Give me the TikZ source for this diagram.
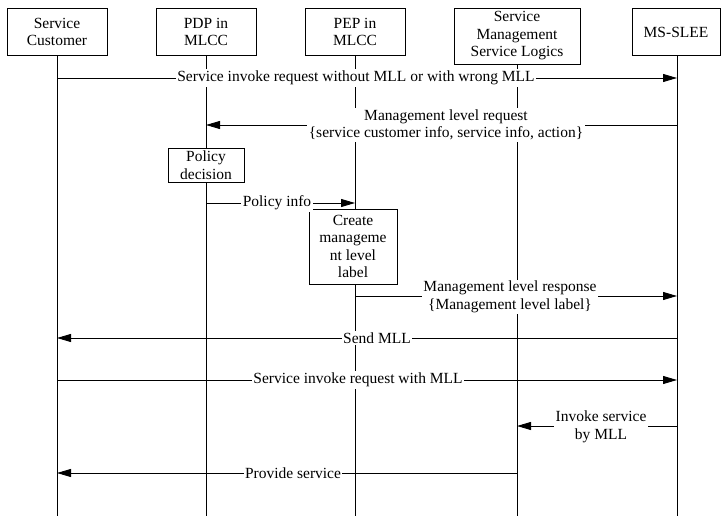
\documentclass[tikz,border=0pt]{standalone}
\usepackage{fontspec}
\setmainfont{Liberation Serif}
\usetikzlibrary{arrows.meta}
\begin{document}
\begin{tikzpicture}[x=1pt,y=-1pt,
  every node/.style={font=\fontsize{15.5}{17.5}\selectfont},
  actor/.style={draw, line width=0.9pt, minimum width=100pt, minimum height=47pt, inner sep=1pt, align=center, fill=white},
  actbox/.style={draw, line width=0.9pt, inner sep=2pt, align=center, fill=white},
  lbl/.style={fill=white, inner sep=1.5pt, align=center},
  life/.style={line width=0.9pt},
  msg/.style={line width=0.9pt, -{Triangle[length=14pt,width=8pt]}}
]
\useasboundingbox (0,0) rectangle (721,516);

% actors
\node[actor] (sc) at (57,32) {Service\\Customer};
\node[actor] (pdp) at (206,32) {PDP in\\MLCC};
\node[actor] (pep) at (355,32) {PEP in\\MLCC};
\node[actor, minimum width=126pt, minimum height=56pt] (sm) at (517,36) {Service\\Management\\Service Logics};
\node[actor, minimum width=88pt] (ms) at (676,32) {MS-SLEE};

% lifeline ends
\coordinate (scE) at (57,516);
\coordinate (pdpE) at (206,516);
\coordinate (pepE) at (355,516);
\coordinate (smE) at (517,516);
\coordinate (msE) at (677,516);

\draw[life] (sc.south) -- (scE);
\draw[life] (pdp.south) -- (pdpE);
\draw[life] (pep.south) -- (pepE);
\draw[life] (sm.south) -- (smE);
\draw[life] (ms.south -| msE) -- (msE);

% message points
\coordinate (a1) at (57,78);   \coordinate (b1) at (677,78);
\coordinate (a2) at (677,125); \coordinate (b2) at (206,125);
\coordinate (a3) at (206,203); \coordinate (b3) at (355,203);
\coordinate (a4) at (355,296); \coordinate (b4) at (677,296);
\coordinate (a5) at (677,338); \coordinate (b5) at (57,338);
\coordinate (a6) at (57,380);  \coordinate (b6) at (677,380);
\coordinate (a7) at (677,426); \coordinate (b7) at (517,426);
\coordinate (a8) at (517,473); \coordinate (b8) at (57,473);

\draw[msg] (a1) -- (b1);
\draw[msg] (a2) -- (b2);
\draw[msg] (a3) -- (b3);
\draw[msg] (a4) -- (b4);
\draw[msg] (a5) -- (b5);
\draw[msg] (a6) -- (b6);
\draw[msg] (a7) -- (b7);
\draw[msg] (a8) -- (b8);

% activity boxes
\node[actbox, minimum width=76pt, minimum height=34pt] (pd) at (206,165) {Policy\\decision};
\node[actbox, minimum width=88pt, minimum height=75pt] (cm) at (353,246.5) {Create\\manageme\\nt level\\label};

% labels
\node[lbl] (l1) at (356,78) {Service invoke request without MLL or with wrong MLL};
\node[lbl] (l2) at (446,125) {Management level request\\\{service customer info, service info, action\}};
\node[lbl] (l3) at (277,203) {Policy info};
\node[lbl] (l4) at (510,297) {Management level response\\\{Management level label\}};
\node[lbl] (l5) at (377,338) {Send MLL};
\node[lbl] (l6) at (358,380) {Service invoke request with MLL};
\node[lbl] (l7) at (601,427) {Invoke service\\by MLL};
\node[lbl] (l8) at (293,473) {Provide service};
\end{tikzpicture}
\end{document}
